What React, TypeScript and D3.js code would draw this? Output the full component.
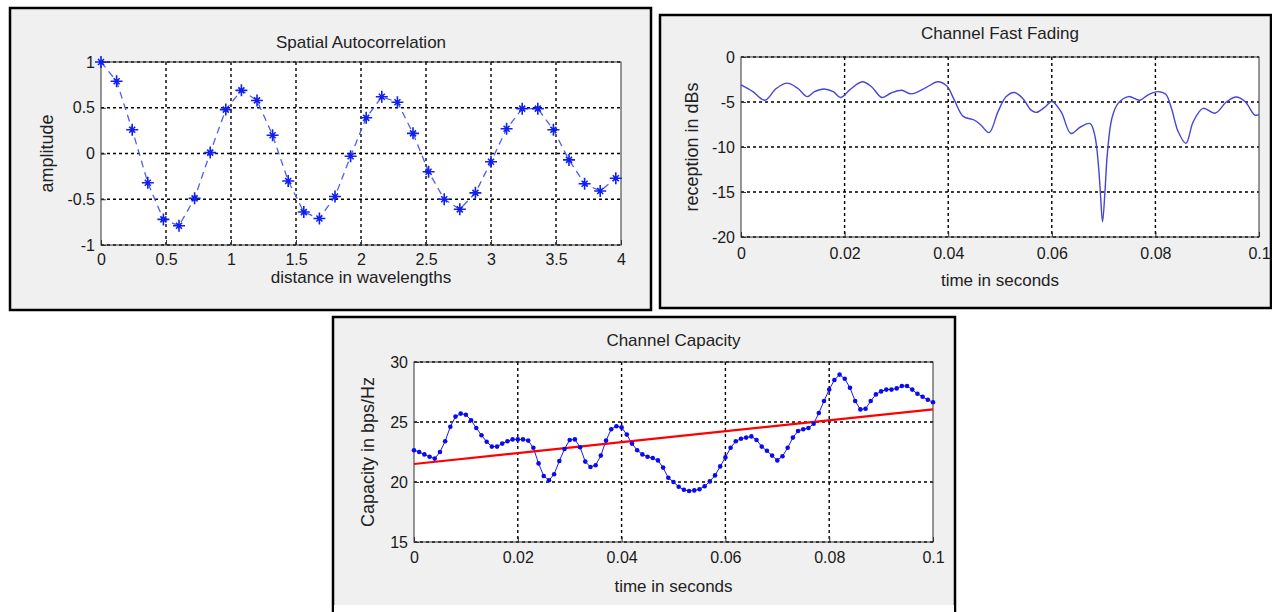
import React, { useEffect, useRef } from "react";
import * as d3 from "d3";

// Spatial autocorrelation samples
const autoDistance = [
	0, 0.12, 0.24, 0.36, 0.48, 0.6, 0.72, 0.84, 0.96, 1.08, 1.2, 1.32, 1.44, 1.56, 1.68, 1.8, 1.92,
	2.04, 2.16, 2.28, 2.4, 2.52, 2.64, 2.76, 2.88, 3.0, 3.12, 3.24, 3.36, 3.48, 3.6, 3.72, 3.84, 3.96,
];
const autoAmplitude = [
	1, 0.79, 0.26, -0.32, -0.72, -0.79, -0.49, 0.01, 0.48, 0.69, 0.58, 0.2, -0.3, -0.64, -0.71, -0.47,
	-0.03, 0.39, 0.62, 0.56, 0.22, -0.2, -0.5, -0.61, -0.43, -0.09, 0.27, 0.49, 0.49, 0.26, -0.07, -0.33,
	-0.41, -0.27,
];

// Fast fading trace
const fadingTime = [
	0, 0.0023, 0.0046, 0.0068, 0.0089, 0.011, 0.0128, 0.0142, 0.016, 0.0178, 0.0192, 0.021, 0.0234,
	0.0252, 0.0272, 0.029, 0.031, 0.0329, 0.0357, 0.038, 0.0397, 0.0412, 0.0429, 0.045, 0.0463, 0.0479,
	0.0496, 0.0512, 0.0528, 0.0544, 0.056, 0.057, 0.0586, 0.06, 0.0618, 0.0637, 0.0656, 0.0674, 0.0683,
	0.069, 0.0694, 0.0698, 0.0703, 0.0707, 0.0716, 0.0728, 0.0748, 0.077, 0.0786, 0.0805, 0.082, 0.0831,
	0.0844, 0.0859, 0.0873, 0.0892, 0.0915, 0.0938, 0.0956, 0.0973, 0.0992, 0.1,
];
const fadingDb = [
	-3.1, -3.85, -4.8, -3.5, -2.9, -3.5, -4.4, -3.85, -3.55, -3.85, -4.5, -3.65, -2.75, -3.3, -4.5, -4.0,
	-3.7, -4.1, -3.4, -2.75, -3.2, -4.8, -6.6, -7.0, -7.55, -8.4, -6.1, -4.4, -3.95, -4.6, -5.9, -6.15,
	-5.6, -4.95, -6.1, -8.5, -7.75, -7.4, -8.7, -12, -15.3, -18.3, -14.6, -10.9, -6.8, -5.15, -4.4, -4.8,
	-4.2, -3.85, -4.15, -5.7, -8.3, -9.6, -7.2, -5.7, -6.25, -4.95, -4.45, -4.95, -6.45, -6.4,
];

// Capacity, one sample per millisecond
const capacityStep = 0.001;
const capacityBps = [
	22.65, 22.5, 22.3, 22.1, 21.95, 22.5, 23.4, 24.6, 25.45, 25.7,
	25.6, 25.15, 24.5, 23.9, 23.35, 22.95, 22.95, 23.2, 23.4, 23.55,
	23.55, 23.55, 23.45, 22.85, 21.55, 20.5, 20.15, 20.65, 21.75, 22.75,
	23.5, 23.55, 22.9, 21.7, 21.25, 21.4, 22.2, 23.45, 24.4, 24.65,
	24.55, 23.95, 23.2, 22.65, 22.3, 22.1, 22.0, 21.8, 21.2, 20.35,
	20.0, 19.6, 19.35, 19.25, 19.3, 19.4, 19.65, 20.05, 20.55, 21.3,
	22.05, 22.85, 23.4, 23.6, 23.7, 23.8, 23.5, 22.95, 22.6, 22.2,
	21.8, 22.15, 22.85, 23.7, 24.25, 24.4, 24.5, 24.85, 25.75, 26.75,
	27.7, 28.5, 28.95, 28.6, 27.85, 26.75, 26.05, 26.1, 26.75, 27.3,
	27.55, 27.7, 27.7, 27.8, 28.0, 28.0, 27.7, 27.35, 27.1, 26.85, 26.65,
];
const trendTime = [0, 0.1];
const trendBps = [21.5, 26.05];

// Ticks
const autoXTicks = [0, 0.5, 1, 1.5, 2, 2.5, 3, 3.5, 4];
const autoYTicks = [-1, -0.5, 0, 0.5, 1];
const timeTicks = [0, 0.02, 0.04, 0.06, 0.08, 0.1];
const fadingYTicks = [-20, -15, -10, -5, 0];
const capacityYTicks = [15, 20, 25, 30];

const FONT = "Arial, 'Liberation Sans', Helvetica, sans-serif";

function drawPanel(svg, cfg) {
	const { frame, plot, xDomain, yDomain, xTicks, yTicks } = cfg;

	// Figure background with black frame
	svg
		.append("rect")
		.attr("x", frame.x)
		.attr("y", frame.y)
		.attr("width", frame.w)
		.attr("height", frame.h)
		.attr("fill", "#f0f0f0")
		.attr("stroke", "#000")
		.attr("stroke-width", 2.5);

	svg
		.append("rect")
		.attr("x", plot.left)
		.attr("y", plot.top)
		.attr("width", plot.right - plot.left)
		.attr("height", plot.bottom - plot.top)
		.attr("fill", "#fff");

	// Scales
	const x = d3.scaleLinear().domain(xDomain).range([plot.left, plot.right]);
	const y = d3.scaleLinear().domain(yDomain).range([plot.bottom, plot.top]);

	// Grid
	const grid = svg.append("g").attr("stroke", "#000").attr("stroke-width", 1.4).attr("stroke-dasharray", "3,3");
	grid
		.selectAll("line.gx")
		.data(xTicks.slice(1, -1))
		.join("line")
		.attr("x1", d => x(d))
		.attr("x2", d => x(d))
		.attr("y1", plot.top)
		.attr("y2", plot.bottom);
	grid
		.selectAll("line.gy")
		.data(yTicks)
		.join("line")
		.attr("x1", plot.left)
		.attr("x2", plot.right)
		.attr("y1", d => y(d))
		.attr("y2", d => y(d));

	// x-axis
	const xAxis = d3
		.axisBottom(x)
		.tickValues(xTicks)
		.tickFormat(d => String(d))
		.tickSizeInner(-5)
		.tickSizeOuter(0)
		.tickPadding(cfg.xPad);
	const gx = svg.append("g").attr("transform", `translate(0, ${plot.bottom})`).call(xAxis);

	// y-axis
	const yAxis = d3
		.axisLeft(y)
		.tickValues(yTicks)
		.tickFormat(d => String(d))
		.tickSizeInner(-5)
		.tickSizeOuter(0)
		.tickPadding(6);
	const gy = svg.append("g").attr("transform", `translate(${plot.left}, 0)`).call(yAxis);

	[gx, gy].forEach(g => {
		g.select(".domain").remove();
		g.selectAll("line").attr("stroke", "#333");
		g.selectAll("text").attr("fill", "#1a1a1a").style("font-family", FONT).style("font-size", "16px");
	});

	// Box
	svg
		.append("rect")
		.attr("x", plot.left)
		.attr("y", plot.top)
		.attr("width", plot.right - plot.left)
		.attr("height", plot.bottom - plot.top)
		.attr("fill", "none")
		.attr("stroke", "#333")
		.attr("stroke-width", 1);

	const cx = (plot.left + plot.right) / 2;

	// Title
	svg
		.append("text")
		.attr("x", cx)
		.attr("y", cfg.titleY)
		.attr("text-anchor", "middle")
		.attr("dominant-baseline", "central")
		.attr("fill", "#222")
		.style("font-family", FONT)
		.style("font-size", "17px")
		.text(cfg.title);

	// x-axis label
	svg
		.append("text")
		.attr("x", cx)
		.attr("y", cfg.xLabelY)
		.attr("text-anchor", "middle")
		.attr("dominant-baseline", "central")
		.attr("fill", "#222")
		.style("font-family", FONT)
		.style("font-size", "17px")
		.text(cfg.xLabel);

	// y-axis label
	svg
		.append("text")
		.attr("transform", `translate(${cfg.yLabelX}, ${(plot.top + plot.bottom) / 2}) rotate(-90)`)
		.attr("text-anchor", "middle")
		.attr("dominant-baseline", "central")
		.attr("fill", "#222")
		.style("font-family", FONT)
		.style("font-size", "18px")
		.text(cfg.yLabel);

	return { x, y };
}

export default function App() {
	const ref = useRef(null);

	useEffect(() => {
		const w = 1272;
		const h = 612;

		const svg = d3
			.select(ref.current)
			.html("")
			.append("svg")
			.attr("width", w)
			.attr("height", h)
			.attr("viewBox", `0 0 ${w} ${h}`)
			.style("position", "absolute")
			.style("left", "0px")
			.style("top", "0px")
			.style("background", "#fff");

		// Panel 1: Spatial Autocorrelation
		const p1 = drawPanel(svg, {
			frame: { x: 10, y: 8, w: 641, h: 302 },
			plot: { left: 101, top: 62, right: 621, bottom: 245 },
			xDomain: [0, 4],
			yDomain: [-1, 1],
			xTicks: autoXTicks,
			yTicks: autoYTicks,
			xPad: 9,
			title: "Spatial Autocorrelation",
			titleY: 42,
			xLabel: "distance in wavelengths",
			xLabelY: 277,
			yLabel: "amplitude",
			yLabelX: 47,
		});

		const autoPts = autoDistance.map((d, i) => [d, autoAmplitude[i]]);
		svg
			.append("path")
			.datum(autoPts)
			.attr("fill", "none")
			.attr("stroke", "#5060e8")
			.attr("stroke-width", 1.3)
			.attr("stroke-dasharray", "7,5")
			.attr(
				"d",
				d3
					.line()
					.x(d => p1.x(d[0]))
					.y(d => p1.y(d[1]))
			);

		// MATLAB-style '*' marker, plus-heavy
		const star = "M-6,0L6,0M0,-6L0,6M-3,-3L3,3M-3,3L3,-3";
		svg
			.append("g")
			.selectAll("path")
			.data(autoPts)
			.join("path")
			.attr("transform", d => `translate(${p1.x(d[0])}, ${p1.y(d[1])})`)
			.attr("d", star)
			.attr("fill", "none")
			.attr("stroke", "#1020f0")
			.attr("stroke-width", 1.6);

		// Panel 2: Channel Fast Fading
		const p2 = drawPanel(svg, {
			frame: { x: 660, y: 15, w: 611, h: 293 },
			plot: { left: 741, top: 57, right: 1259, bottom: 237 },
			xDomain: [0, 0.1],
			yDomain: [-20, 0],
			xTicks: timeTicks,
			yTicks: fadingYTicks,
			xPad: 11,
			title: "Channel Fast Fading",
			titleY: 33,
			xLabel: "time in seconds",
			xLabelY: 280,
			yLabel: "reception in dBs",
			yLabelX: 692,
		});

		svg
			.append("path")
			.datum(fadingTime.map((t, i) => [t, fadingDb[i]]))
			.attr("fill", "none")
			.attr("stroke", "#4545d8")
			.attr("stroke-width", 1.4)
			.attr(
				"d",
				d3
					.line()
					.curve(d3.curveCatmullRom)
					.x(d => p2.x(d[0]))
					.y(d => p2.y(d[1]))
			);

		// Panel 3: Channel Capacity
		const p3 = drawPanel(svg, {
			frame: { x: 333, y: 317, w: 622, h: 300 },
			plot: { left: 414, top: 362, right: 933, bottom: 542 },
			xDomain: [0, 0.1],
			yDomain: [15, 30],
			xTicks: timeTicks,
			yTicks: capacityYTicks,
			xPad: 10,
			title: "Channel Capacity",
			titleY: 340,
			xLabel: "time in seconds",
			xLabelY: 586,
			yLabel: "Capacity in bps/Hz",
			yLabelX: 368,
		});

		// strip under the bottom figure
		svg.append("rect").attr("x", 334).attr("y", 605).attr("width", 620).attr("height", 10).attr("fill", "#fff");

		const capPts = capacityBps.map((v, i) => [i * capacityStep, v]);
		svg
			.append("path")
			.datum(capPts)
			.attr("fill", "none")
			.attr("stroke", "#1a1af0")
			.attr("stroke-width", 1)
			.attr(
				"d",
				d3
					.line()
					.x(d => p3.x(d[0]))
					.y(d => p3.y(d[1]))
			);

		svg
			.append("path")
			.datum(trendTime.map((t, i) => [t, trendBps[i]]))
			.attr("fill", "none")
			.attr("stroke", "#ff0000")
			.attr("stroke-width", 2.2)
			.attr(
				"d",
				d3
					.line()
					.x(d => p3.x(d[0]))
					.y(d => p3.y(d[1]))
			);

		svg
			.append("g")
			.selectAll("circle")
			.data(capPts)
			.join("circle")
			.attr("cx", d => p3.x(d[0]))
			.attr("cy", d => p3.y(d[1]))
			.attr("r", 2.3)
			.attr("fill", "#0a0af0");
	}, []);

	return <div ref={ref}></div>;
}
